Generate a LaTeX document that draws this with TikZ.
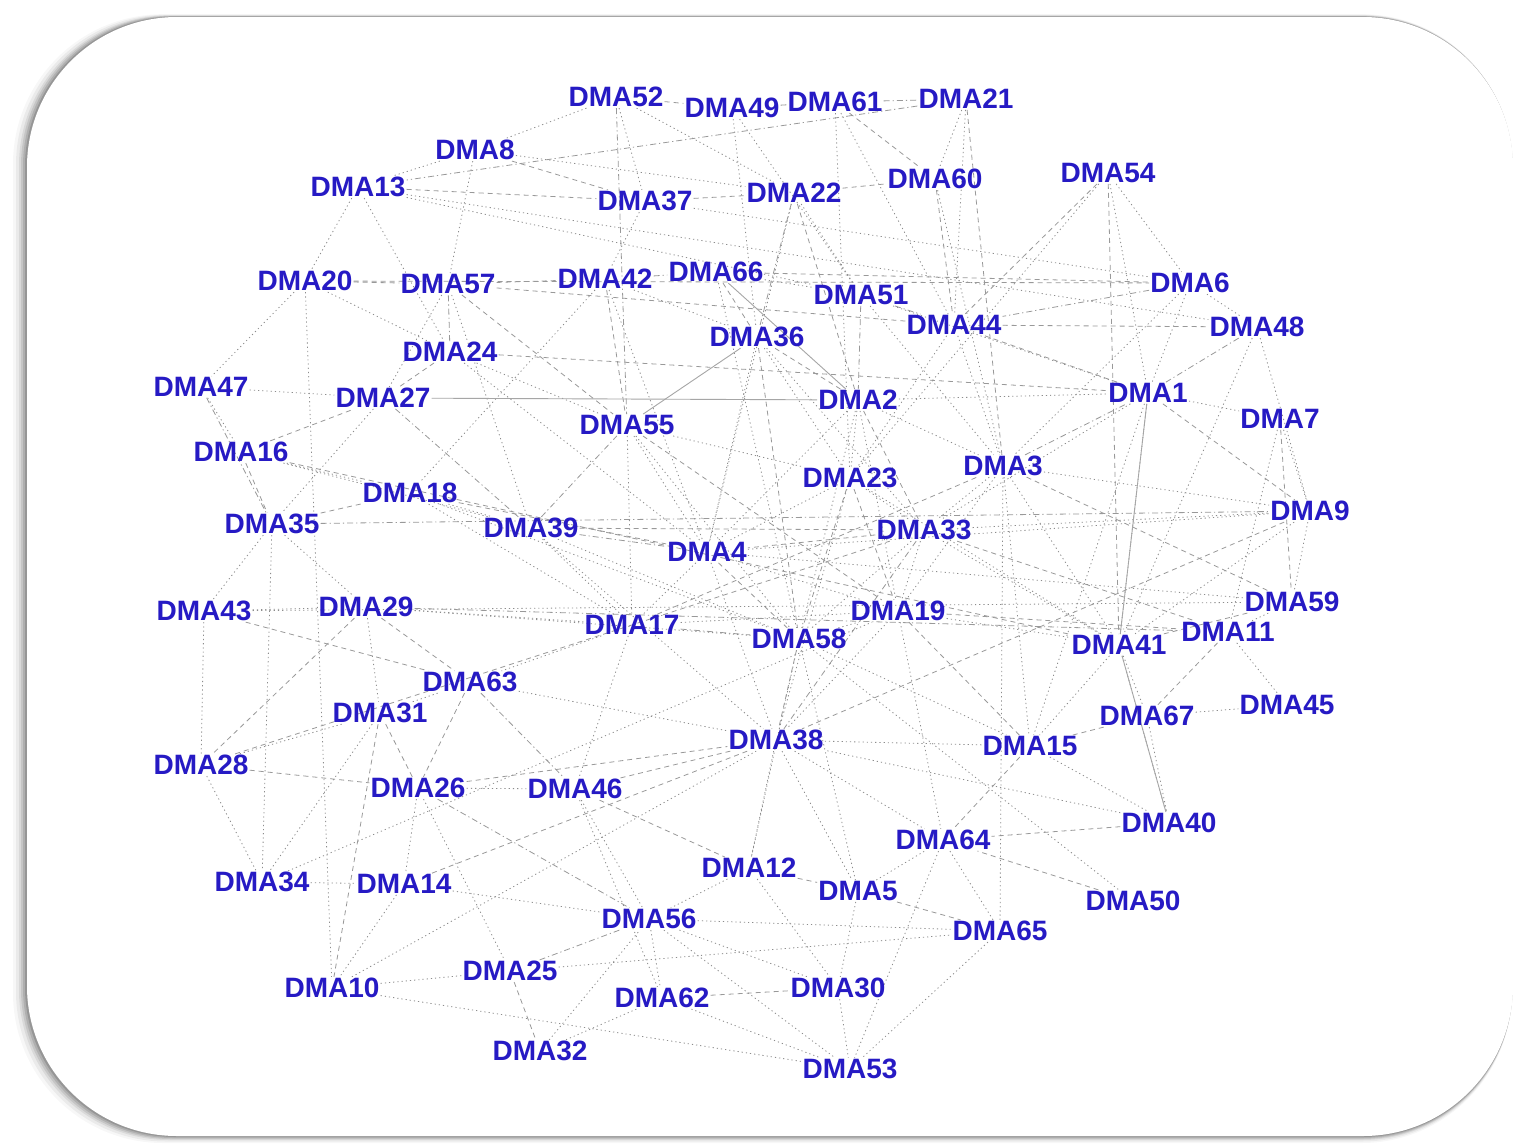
\documentclass[tikz,border=0pt]{standalone}
\usepackage{fontspec}
\setmainfont{Liberation Sans}
\usetikzlibrary{backgrounds}
\definecolor{labblue}{RGB}{38,26,196}
\begin{document}
\begin{tikzpicture}[x=1pt,y=-1pt,
  lab/.style={text=labblue,font=\fontsize{28}{30}\selectfont\bfseries,inner sep=1pt},
  ed/.style={draw=black!45,line width=0.8pt,dash pattern=on 1.2pt off 3pt},
  edd/.style={draw=black!40,line width=0.8pt,dash pattern=on 5pt off 4pt},
  eddot/.style={draw=black!40,line width=0.8pt,dash pattern=on 6pt off 3pt on 1.2pt off 3pt},
  eds/.style={draw=black!35,line width=0.9pt}]
\useasboundingbox (0,0) rectangle (1515,1143);
\begin{pgfonlayer}{background}
  \foreach \i/\o in {14/0.03,11/0.05,8/0.07,6/0.09,4/0.11,2/0.14}
    \fill[black,opacity=\o,rounded corners=150] ({27-\i},{17-0.2*\i}) rectangle ({1513-0.1*\i},{1136+0.5*\i});
  \fill[white,rounded corners=150] (27,17) rectangle (1513,1136);
\end{pgfonlayer}
% nodes
\node[lab] (d52) at (616,97) {DMA52};
\node[lab] (d49) at (732,108) {DMA49};
\node[lab] (d61) at (835,102) {DMA61};
\node[lab] (d21) at (966,99) {DMA21};
\node[lab] (d8) at (475,150) {DMA8};
\node[lab] (d13) at (358,187) {DMA13};
\node[lab] (d37) at (645,201) {DMA37};
\node[lab] (d22) at (794,193) {DMA22};
\node[lab] (d60) at (935,179) {DMA60};
\node[lab] (d54) at (1108,173) {DMA54};
\node[lab] (d20) at (305,281) {DMA20};
\node[lab] (d57) at (448,284) {DMA57};
\node[lab] (d42) at (605,279) {DMA42};
\node[lab] (d66) at (716,272) {DMA66};
\node[lab] (d51) at (861,295) {DMA51};
\node[lab] (d6) at (1190,283) {DMA6};
\node[lab] (d44) at (954,325) {DMA44};
\node[lab] (d48) at (1257,327) {DMA48};
\node[lab] (d36) at (757,337) {DMA36};
\node[lab] (d24) at (450,352) {DMA24};
\node[lab] (d47) at (201,387) {DMA47};
\node[lab] (d27) at (383,398) {DMA27};
\node[lab] (d2) at (858,400) {DMA2};
\node[lab] (d1) at (1148,393) {DMA1};
\node[lab] (d7) at (1280,419) {DMA7};
\node[lab] (d55) at (627,425) {DMA55};
\node[lab] (d16) at (241,452) {DMA16};
\node[lab] (d23) at (850,478) {DMA23};
\node[lab] (d3) at (1003,466) {DMA3};
\node[lab] (d18) at (410,493) {DMA18};
\node[lab] (d35) at (272,524) {DMA35};
\node[lab] (d39) at (531,528) {DMA39};
\node[lab] (d9) at (1310,511) {DMA9};
\node[lab] (d33) at (924,530) {DMA33};
\node[lab] (d4) at (707,552) {DMA4};
\node[lab] (d43) at (204,611) {DMA43};
\node[lab] (d29) at (366,607) {DMA29};
\node[lab] (d17) at (632,625) {DMA17};
\node[lab] (d58) at (799,639) {DMA58};
\node[lab] (d19) at (898,611) {DMA19};
\node[lab] (d59) at (1292,602) {DMA59};
\node[lab] (d41) at (1119,645) {DMA41};
\node[lab] (d11) at (1228,632) {DMA11};
\node[lab] (d63) at (470,682) {DMA63};
\node[lab] (d31) at (380,713) {DMA31};
\node[lab] (d45) at (1287,705) {DMA45};
\node[lab] (d67) at (1147,716) {DMA67};
\node[lab] (d38) at (776,740) {DMA38};
\node[lab] (d15) at (1030,746) {DMA15};
\node[lab] (d28) at (201,765) {DMA28};
\node[lab] (d26) at (418,788) {DMA26};
\node[lab] (d46) at (575,789) {DMA46};
\node[lab] (d40) at (1169,823) {DMA40};
\node[lab] (d64) at (943,840) {DMA64};
\node[lab] (d34) at (262,882) {DMA34};
\node[lab] (d14) at (404,884) {DMA14};
\node[lab] (d12) at (749,868) {DMA12};
\node[lab] (d5) at (858,891) {DMA5};
\node[lab] (d50) at (1133,901) {DMA50};
\node[lab] (d56) at (649,919) {DMA56};
\node[lab] (d65) at (1000,931) {DMA65};
\node[lab] (d10) at (332,988) {DMA10};
\node[lab] (d25) at (510,971) {DMA25};
\node[lab] (d62) at (662,998) {DMA62};
\node[lab] (d30) at (838,988) {DMA30};
\node[lab] (d32) at (540,1051) {DMA32};
\node[lab] (d53) at (850,1069) {DMA53};
% connectors
\begin{pgfonlayer}{background}
\foreach \a/\b in {52/8,52/37,52/22,49/36,49/51,61/44,61/23,21/60,21/44,8/13,8/22,8/57,13/20,13/24,13/51,37/42,37/6,22/51,22/4,60/3,54/6,54/1,54/23,
 20/47,20/24,57/27,57/39,42/36,42/18,66/51,66/58,24/55,47/27,47/16,16/18,16/39,35/43,35/29,18/39,18/58,39/17,39/38,27/35,
 55/4,55/23,55/58,2/23,2/3,2/19,2/1,36/23,23/33,23/4,3/33,3/9,3/41,3/15,33/19,33/9,33/41,4/17,4/19,4/38,4/59,17/63,17/46,58/19,58/12,58/5,58/50,19/41,19/64,
 6/48,6/1,6/3,48/41,48/9,1/7,1/41,1/15,1/33,7/11,7/9,9/59,9/41,59/11,11/45,41/67,41/15,41/40,67/45,67/40,15/40,15/38,40/38,44/3,44/23,51/3,51/1,
 43/29,43/28,29/31,29/17,63/31,63/38,31/28,31/34,28/34,26/14,26/25,26/46,46/56,46/62,34/14,14/10,14/56,10/25,10/53,10/38,
 38/12,38/5,38/64,12/56,12/30,5/30,5/64,56/62,56/65,56/30,56/53,62/53,62/32,25/65,32/56,64/65,64/53,65/53,65/3,30/53,35/34,20/10,29/58,43/59,13/48,34/19,
 36/4,2/4,23/38,19/38,33/58,3/19,55/17,39/58,18/17,24/4,42/4,36/33,23/41,4/9,17/19,58/15,2/58}
 \draw[ed] (d\a) -- (d\b);
\foreach \a/\b in {52/49,61/60,21/3,8/37,13/37,37/22,22/60,22/2,60/44,54/44,54/41,20/57,57/42,42/55,66/36,66/6,57/55,24/27,16/35,16/27,35/18,18/4,
 2/36,2/33,36/58,23/58,23/19,3/59,33/4,33/11,4/58,58/38,19/11,19/15,44/48,1/44,1/9,7/59,59/41,9/38,11/67,67/15,15/64,40/64,50/64,
 29/63,63/26,31/26,31/10,28/26,26/38,46/38,46/12,14/38,12/5,5/65,62/30,25/32,29/28,43/63,16/41,28/33,24/1,57/44,20/6,55/19,39/33,17/3}
 \draw[edd] (d\a) -- (d\b);
\foreach \a/\b in {52/55,49/61,61/21,22/36,42/66,24/57,47/35,39/55,39/4,27/39,17/58,33/38,3/1,51/44,51/2,6/44,48/1,63/46,26/56,56/25,35/9,29/11,21/13}
 \draw[eddot] (d\a) -- (d\b);
\foreach \a/\b in {27/2,1/41,41/40,66/2,55/36}
 \draw[eds] (d\a) -- (d\b);
\end{pgfonlayer}
\end{tikzpicture}
\end{document}
